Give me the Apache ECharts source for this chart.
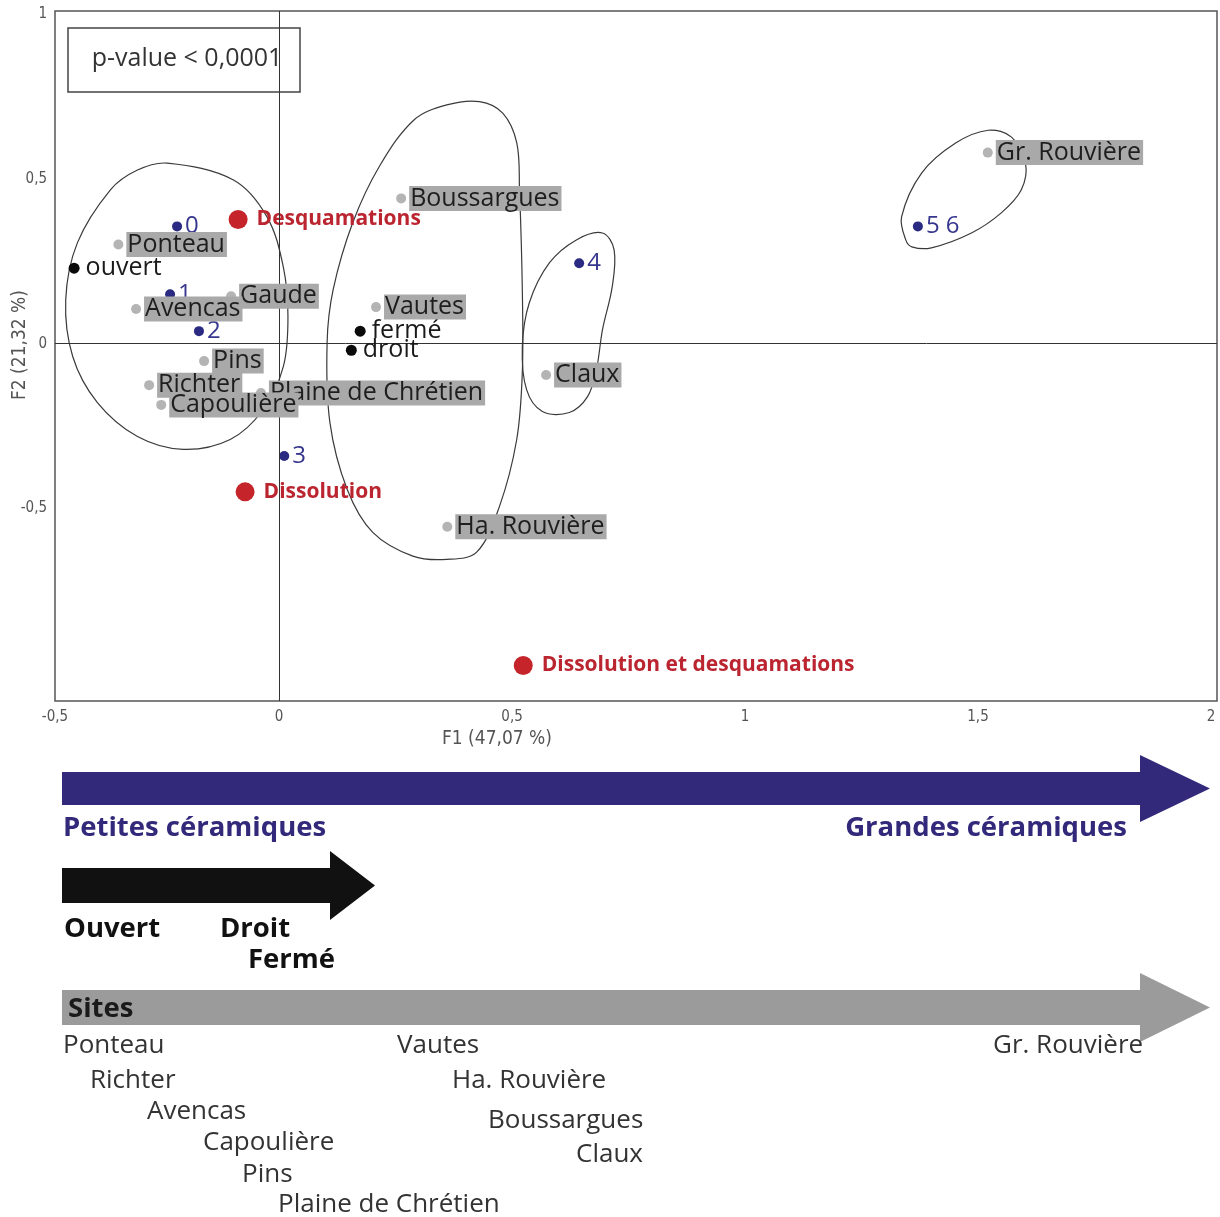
<!DOCTYPE html>
<html>
<head>
<meta charset="utf-8">
<title>AFC - céramiques</title>
<script src="https://cdn.jsdelivr.net/npm/echarts@6/dist/echarts.min.js"></script>
<style>
  html, body { margin: 0; padding: 0; background: #fff; }
  #chart { width: 1220px; height: 1217px; }
</style>
</head>
<body>
<div id="chart"></div>
<script>
// sites (points gris)
var siteNames = ['Gr. Rouvière', 'Boussargues', 'Ponteau', 'Gaude', 'Avencas', 'Vautes',
  'Pins', 'Richter', 'Plaine de Chrétien', 'Capoulière', 'Claux', 'Ha. Rouvière'];
var siteX = [1.521, 0.262, -0.345, -0.103, -0.307, 0.208, -0.161, -0.279, -0.039, -0.253, 0.573, 0.361];
var siteY = [0.580, 0.441, 0.301, 0.144, 0.105, 0.111, -0.053, -0.126, -0.150, -0.186, -0.095, -0.556];

// classes de taille (points bleus)
var classNames = ['0', '1', '2', '3', '4', '5 6'];
var classX = [-0.219, -0.234, -0.172, 0.011, 0.644, 1.371];
var classY = [0.356, 0.150, 0.038, -0.341, 0.244, 0.356];

// forme du bord (points noirs)
var shapeNames = ['ouvert', 'fermé', 'droit'];
var shapeX = [-0.440, 0.174, 0.155];
var shapeY = [0.229, 0.038, -0.020];

// altérations (points rouges)
var alterNames = ['Desquamations', 'Dissolution', 'Dissolution et desquamations'];
var alterX = [-0.088, -0.073, 0.524];
var alterY = [0.377, -0.450, -0.977];

var xTicks = [-0.5, 0, 0.5, 1, 1.5, 2];
var yTicks = [-0.5, 0, 0.5, 1];
var xMin = -0.481, xMax = 2.013;
var yMin = -1.085, yMax = 1.01;

// contours des groupes, en unités F1 / F2
var groupLeft = [[-0.240, 0.548], [-0.098, 0.497], [-0.026, 0.385], [0.009, 0.233], [0.019, 0.082],
  [0.009, -0.070], [-0.034, -0.200], [-0.105, -0.291], [-0.206, -0.321], [-0.304, -0.282],
  [-0.390, -0.179], [-0.443, -0.039], [-0.458, 0.133], [-0.433, 0.306], [-0.362, 0.467], [-0.304, 0.527]];
var groupMiddle = [[0.290, 0.680], [0.216, 0.540], [0.158, 0.367], [0.116, 0.164], [0.103, 0.003],
  [0.109, -0.239], [0.146, -0.442], [0.201, -0.573], [0.287, -0.645], [0.360, -0.655], [0.424, -0.633],
  [0.473, -0.494], [0.510, -0.291], [0.522, -0.088], [0.522, 0.164], [0.516, 0.467], [0.510, 0.610],
  [0.480, 0.700], [0.430, 0.735], [0.360, 0.725]];
var groupClaux = [[0.638, 0.315], [0.694, 0.336], [0.719, 0.285], [0.715, 0.173], [0.694, 0.042],
  [0.681, -0.079], [0.662, -0.161], [0.623, -0.209], [0.565, -0.206], [0.531, -0.139], [0.522, -0.009],
  [0.537, 0.124], [0.580, 0.245]];
var groupRouviere = [[1.345, 0.315], [1.336, 0.385], [1.379, 0.518], [1.452, 0.609], [1.522, 0.648],
  [1.572, 0.627], [1.602, 0.548], [1.593, 0.467], [1.550, 0.397], [1.486, 0.336], [1.400, 0.291], [1.358, 0.294]];
var groups = [groupLeft, groupMiddle, groupClaux, groupRouviere];

// légende du bas
var bottomSites = ['Ponteau', 'Richter', 'Avencas', 'Capoulière', 'Pins', 'Plaine de Chrétien',
  'Vautes', 'Ha. Rouvière', 'Boussargues', 'Claux', 'Gr. Rouvière'];
var bottomSitePos = [[63, 1046], [90, 1081], [147, 1112], [203, 1143], [242, 1175], [278, 1205],
  [397, 1046], [452, 1081], [488, 1121], [576, 1155], [993, 1046]];

var font = "'Open Sans', 'Noto Sans', sans-serif";
var narrow = "'Liberation Sans Narrow', 'DejaVu Sans Condensed', 'Open Sans', sans-serif";
var purple = '#33297b';

function toData(names, xs, ys) {
  return names.map(function (n, i) {
    return { name: n, value: [xs[i], ys[i]] };
  });
}

function fmt(v) {
  return String(v).replace('.', ',');
}

function arrow(x0, x1, xTip, yTop, yBot, hTop, hBot, color) {
  var yMid = (hTop + hBot) / 2;
  return {
    type: 'polygon',
    shape: { points: [[x0, yTop], [x1, yTop], [x1, hTop], [xTip, yMid], [x1, hBot], [x1, yBot], [x0, yBot]] },
    style: { fill: color }
  };
}

function text(str, x, y, size, color, weight, align) {
  return {
    type: 'text',
    x: x, y: y,
    style: {
      text: str, fill: color, font: (weight || 'normal') + ' ' + size + 'px ' + font,
      align: align || 'left', verticalAlign: 'middle'
    }
  };
}

var graphics = [
  {
    type: 'rect',
    shape: { x: 68, y: 28, width: 232, height: 64 },
    style: { fill: '#fff', stroke: '#444', lineWidth: 1.5 }
  },
  text('p-value < 0,0001', 187, 59, 25, '#333', 'normal', 'center'),
  {
    type: 'text', x: 497, y: 739,
    style: { text: 'F1 (47,07 %)', fill: '#555', font: '19px ' + narrow, align: 'center', verticalAlign: 'middle' }
  },
  {
    type: 'text', x: 20, y: 345, rotation: Math.PI / 2,
    style: { text: 'F2 (21,32 %)', fill: '#555', font: '19px ' + narrow, align: 'center', verticalAlign: 'middle' }
  },
  arrow(62, 1140, 1210, 772, 805, 755, 822, purple),
  text('Petites céramiques', 63, 828, 27.5, purple, 'bold'),
  text('Grandes céramiques', 1127, 828, 27.5, purple, 'bold', 'right'),
  arrow(62, 330, 375, 868, 903, 851, 920, '#111'),
  text('Ouvert', 64, 929, 27.5, '#111', 'bold'),
  text('Droit', 220, 929, 27.5, '#111', 'bold'),
  text('Fermé', 248, 960, 27.5, '#111', 'bold'),
  arrow(62, 1140, 1210, 990, 1025, 973, 1042, '#9b9b9b'),
  text('Sites', 68, 1009, 27.5, '#1a1a1a', 'bold')
];
bottomSites.forEach(function (s, i) {
  graphics.push(text(s, bottomSitePos[i][0], bottomSitePos[i][1], 26, '#333'));
});

var option = {
  backgroundColor: '#fff',
  animation: false,
  grid: {
    left: 55, right: 3, top: 11, bottom: 516,
    show: true, borderColor: '#555', borderWidth: 1.5,
    outerBoundsMode: 'none'
  },
  xAxis: {
    type: 'value', min: xMin, max: xMax,
    axisLine: { show: false }, axisTick: { show: false }, splitLine: { show: false },
    axisLabel: {
      // le cadre démarre un peu après -0,5 : on pose cette étiquette sur le bord
      customValues: xTicks.map(function (v) { return Math.max(v, xMin); }),
      formatter: function (v) { return v <= xMin + 1e-6 ? '-0,5' : fmt(v); },
      color: '#555', fontSize: 15, fontFamily: narrow, margin: 9
    }
  },
  yAxis: {
    type: 'value', min: yMin, max: yMax,
    axisLine: { show: false }, axisTick: { show: false }, splitLine: { show: false },
    axisLabel: {
      customValues: yTicks,
      formatter: fmt,
      color: '#555', fontSize: 15, fontFamily: narrow, margin: 8
    }
  },
  graphic: graphics,
  series: [
    {
      type: 'custom',
      name: 'groupes',
      silent: true,
      z: 1,
      data: groups.map(function (g) { return g[0]; }),
      renderItem: function (params, api) {
        var pts = groups[params.dataIndex].map(function (p) { return api.coord(p); });
        return {
          type: 'polygon',
          shape: { points: pts, smooth: 0.35 },
          style: { fill: 'none', stroke: '#3a3a3a', lineWidth: 1.2 }
        };
      }
    },
    {
      type: 'scatter',
      name: 'altérations',
      z: 3,
      symbolSize: 19,
      itemStyle: { color: '#c4242a', opacity: 1 },
      label: {
        show: true, position: 'right', distance: 9, formatter: '{b}',
        color: '#bb2530', fontSize: 21, fontWeight: 'bold', fontFamily: font
      },
      data: toData(alterNames, alterX, alterY),
      markLine: {
        silent: true,
        symbol: ['none', 'none'],
        label: { show: false },
        lineStyle: { color: '#333', type: 'solid', width: 1 },
        data: [{ xAxis: 0 }, { yAxis: 0 }]
      }
    },
    {
      type: 'scatter',
      name: 'classes',
      z: 4,
      symbolSize: 10,
      itemStyle: { color: '#2a2a82', opacity: 1 },
      label: {
        show: true, position: 'right', distance: 3, formatter: '{b}',
        color: '#36368e', fontSize: 24, fontFamily: font
      },
      data: toData(classNames, classX, classY)
    },
    {
      type: 'scatter',
      name: 'forme',
      z: 5,
      symbolSize: 11,
      itemStyle: { color: '#0a0a0a', opacity: 1 },
      label: {
        show: true, position: 'right', distance: 6, formatter: '{b}',
        color: '#1a1a1a', fontSize: 25, fontFamily: font
      },
      data: toData(shapeNames, shapeX, shapeY)
    },
    {
      type: 'scatter',
      name: 'sites',
      z: 6,
      symbolSize: 10,
      itemStyle: { color: '#b4b4b4', opacity: 1 },
      label: {
        show: true, position: 'right', distance: 3, formatter: '{b}',
        color: '#1e1e1e', fontSize: 25, lineHeight: 25, fontFamily: font,
        backgroundColor: '#a9a9a9', padding: [0, 2, 0, 1]
      },
      labelLayout: { hideOverlap: false },
      data: toData(siteNames, siteX, siteY)
    }
  ]
};

var chart = echarts.init(document.getElementById('chart'));
chart.setOption(option);
</script>
</body>
</html>
